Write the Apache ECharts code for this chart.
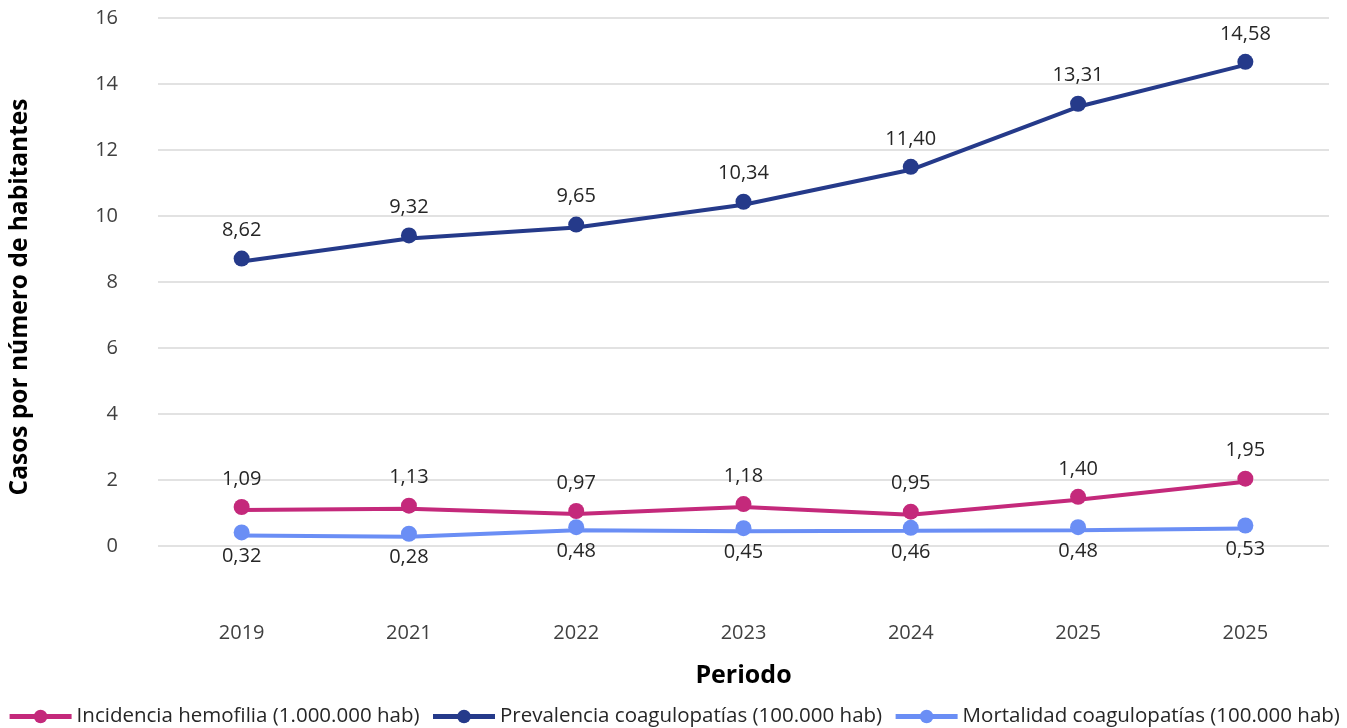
<!DOCTYPE html>
<html>
<head>
<meta charset="utf-8">
<script src="https://cdn.jsdelivr.net/npm/echarts@6/dist/echarts.min.js"></script>
<style>
  html, body { margin: 0; padding: 0; background: #fff; }
  #chart { width: 1347px; height: 728px; }
</style>
</head>
<body>
<div id="chart"></div>
<script>
// Periods on the horizontal axis
const periods = ['2019', '2021', '2022', '2023', '2024', '2025', '2025'];

// Series values (cases per number of inhabitants)
const incidenciaHemofilia = [1.09, 1.13, 0.97, 1.18, 0.95, 1.40, 1.95];
const prevalenciaCoagulopatias = [8.62, 9.32, 9.65, 10.34, 11.40, 13.31, 14.58];
const mortalidadCoagulopatias = [0.32, 0.28, 0.48, 0.45, 0.46, 0.48, 0.53];

// Series names
const seriesNames = [
  'Incidencia hemofilia (1.000.000 hab)',
  'Prevalencia coagulopatías (100.000 hab)',
  'Mortalidad coagulopatías (100.000 hab)'
];

const FONT = 'Open Sans';
const fmt = p => p.value.toFixed(2).replace('.', ',');

function lineSeries(name, data, color, labelPos) {
  return {
    name: name,
    type: 'line',
    data: data,
    symbol: 'circle',
    symbolSize: 16,
    symbolOffset: [0, -3],
    lineStyle: { color: color, width: 4 },
    itemStyle: { color: color },
    label: {
      show: true,
      position: labelPos,
      distance: labelPos === 'top' ? 10 : 6,
      formatter: fmt,
      fontFamily: FONT,
      fontSize: 20,
      color: '#262626'
    },
    emphasis: { disabled: true },
    animation: false
  };
}

const chart = echarts.init(document.getElementById('chart'));
chart.setOption({
  backgroundColor: '#ffffff',
  textStyle: { fontFamily: FONT },
  grid: { left: 155, right: 18, top: 18, bottom: 182 },
  legend: {
    bottom: -4,
    left: 'center',
    itemWidth: 62,
    itemHeight: 17,
    itemGap: 11,
    lineStyle: { width: 5 },
    textStyle: { fontFamily: FONT, fontSize: 20.5, color: '#262626' },
    data: seriesNames
  },
  xAxis: {
    type: 'category',
    data: periods,
    boundaryGap: true,
    axisLine: { show: false },
    axisTick: { show: false },
    axisLabel: { margin: 77, fontFamily: FONT, fontSize: 20, color: '#404040' },
    name: 'Periodo',
    nameLocation: 'middle',
    nameGap: 117,
    nameTextStyle: { fontFamily: FONT, fontSize: 25, fontWeight: 'bold', color: '#000' }
  },
  yAxis: {
    type: 'value',
    min: 0,
    max: 16,
    interval: 2,
    axisLine: { show: false },
    axisTick: { show: false },
    axisLabel: { margin: 40, fontFamily: FONT, fontSize: 20, color: '#404040' },
    splitLine: { lineStyle: { color: '#d9d9d9', width: 1.5 } },
    name: 'Casos por número de habitantes',
    nameLocation: 'middle',
    nameGap: 125,
    nameRotate: 90,
    nameTextStyle: {
      fontFamily: FONT, fontSize: 24.5, fontWeight: 'bold', color: '#000',
      padding: [0, 30, 0, 0]
    }
  },
  series: [
    lineSeries(seriesNames[0], incidenciaHemofilia, '#c4297b', 'top'),
    lineSeries(seriesNames[1], prevalenciaCoagulopatias, '#253a8a', 'top'),
    lineSeries(seriesNames[2], mortalidadCoagulopatias, '#6a8ef5', 'bottom')
  ]
});
</script>
</body>
</html>
